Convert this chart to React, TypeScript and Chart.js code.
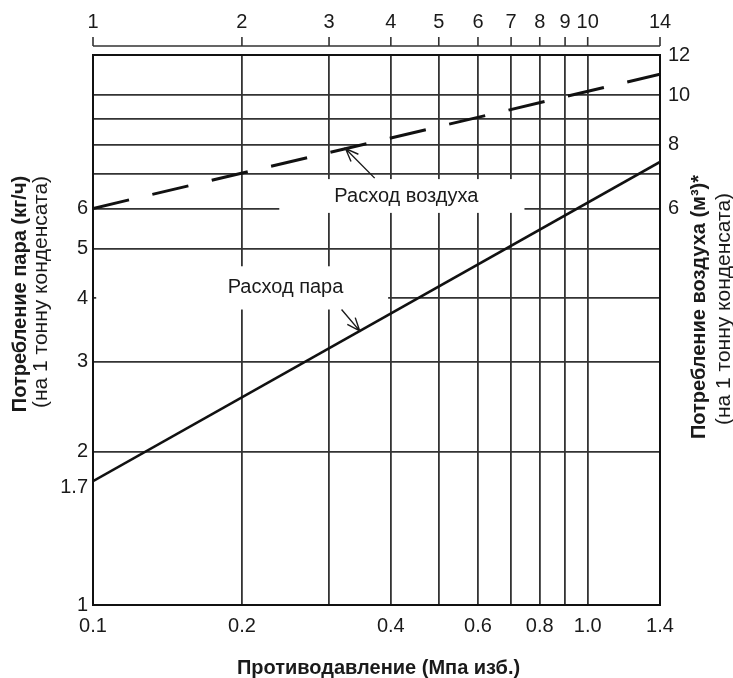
import React, { useEffect, useRef } from 'react';
import { Chart, registerables } from 'chart.js';

Chart.register(...registerables);

// ---- data ----
const pressureMPa = [0.1, 1.4];
const steamKgPerTon = [1.75, 7.4];
const airM3PerTon = [6.0, 11.0];

const bottomGridValues = [0.1, 0.2, 0.3, 0.4, 0.5, 0.6, 0.7, 0.8, 0.9, 1.0, 1.4];
const bottomLabelValues = [0.1, 0.2, 0.4, 0.6, 0.8, 1.0, 1.4];
const topTickValues = [1, 2, 3, 4, 5, 6, 7, 8, 9, 10, 14];
const leftTickValues = [1, 1.7, 2, 3, 4, 5, 6, 7, 8, 9, 10, 12];
const leftLabelValues = [1, 1.7, 2, 3, 4, 5, 6];
const rightLabelValues = [6, 8, 10, 12];

const FONT = "'Liberation Sans', Arial, sans-serif";
const INK = '#1a1a1a';
const GRID = '#333333';

const near = (a: number, b: number) => Math.abs(a - b) < 1e-6;
const inList = (list: number[], v: number) => list.some((b) => near(b, v));

// annotation layout (data coordinates)
const labelBoxes = [
  { x0: 0.238, x1: 0.745, y0: 5.88, y1: 6.85 },
  { x0: 0.1015, x1: 0.395, y0: 3.8, y1: 4.62 },
];
const labelTexts = [
  { text: 'Расход воздуха', x: 0.43, y: 6.32 },
  { text: 'Расход пара', x: 0.245, y: 4.2 },
];
const arrows = [
  { fx: 0.371, fy: 6.88, tx: 0.324, ty: 7.86 },
  { fx: 0.318, fy: 3.8, tx: 0.346, ty: 3.45 },
];

const drawRot = (ctx: CanvasRenderingContext2D, text: string, x: number, y: number, font: string) => {
  ctx.save();
  ctx.translate(x, y);
  ctx.rotate(-Math.PI / 2);
  ctx.font = font;
  ctx.textAlign = 'center';
  ctx.textBaseline = 'middle';
  ctx.fillText(text, 0, 0);
  ctx.restore();
};

const decorPlugin = {
  id: 'decor',
  beforeDatasetsDraw(chart: any) {
    const { ctx, scales } = chart;
    const x = scales.x, y = scales.y;
    ctx.save();
    ctx.fillStyle = '#ffffff';
    for (const b of labelBoxes) {
      const px0 = x.getPixelForValue(b.x0);
      const px1 = x.getPixelForValue(b.x1);
      const py0 = y.getPixelForValue(b.y1);
      const py1 = y.getPixelForValue(b.y0);
      ctx.fillRect(px0, py0, px1 - px0, py1 - py0);
    }
    ctx.restore();
  },
  afterDatasetsDraw(chart: any) {
    const { ctx, scales } = chart;
    const x = scales.x, y = scales.y;
    ctx.save();
    ctx.fillStyle = INK;
    ctx.font = `20px ${FONT}`;
    ctx.textAlign = 'center';
    ctx.textBaseline = 'middle';
    for (const t of labelTexts) {
      ctx.fillText(t.text, x.getPixelForValue(t.x), y.getPixelForValue(t.y));
    }
    ctx.strokeStyle = INK;
    ctx.lineWidth = 1.4;
    for (const a of arrows) {
      const x0 = x.getPixelForValue(a.fx), y0 = y.getPixelForValue(a.fy);
      const x1 = x.getPixelForValue(a.tx), y1 = y.getPixelForValue(a.ty);
      const ang = Math.atan2(y1 - y0, x1 - x0);
      const L = 14, w = 0.38;
      ctx.beginPath();
      ctx.moveTo(x0, y0);
      ctx.lineTo(x1, y1);
      ctx.moveTo(x1 - L * Math.cos(ang - w), y1 - L * Math.sin(ang - w));
      ctx.lineTo(x1, y1);
      ctx.lineTo(x1 - L * Math.cos(ang + w), y1 - L * Math.sin(ang + w));
      ctx.stroke();
    }
    ctx.restore();
  },
  afterDraw(chart: any) {
    const { ctx, chartArea, scales } = chart;
    const x2 = scales.x2;
    ctx.save();
    // top auxiliary axis line with ticks
    const ay = chartArea.top - 9;
    ctx.strokeStyle = GRID;
    ctx.lineWidth = 1.6;
    ctx.beginPath();
    ctx.moveTo(x2.getPixelForValue(topTickValues[0]), ay);
    ctx.lineTo(x2.getPixelForValue(topTickValues[topTickValues.length - 1]), ay);
    for (const v of topTickValues) {
      const px = x2.getPixelForValue(v);
      ctx.moveTo(px, ay);
      ctx.lineTo(px, ay - 9);
    }
    ctx.stroke();

    ctx.fillStyle = INK;
    // bottom title
    ctx.font = `bold 20px ${FONT}`;
    ctx.textAlign = 'center';
    ctx.textBaseline = 'middle';
    ctx.fillText('Противодавление (Мпа изб.)', (chartArea.left + chartArea.right) / 2 + 2, 668);
    // left titles
    drawRot(ctx, 'Потребление пара (кг/ч)', 20, 294, `bold 20px ${FONT}`);
    drawRot(ctx, '(на 1 тонну конденсата)', 41, 292, `21px ${FONT}`);
    // right titles
    drawRot(ctx, 'Потребление воздуха (м³)*', 699, 307, `bold 20px ${FONT}`);
    drawRot(ctx, '(на 1 тонну конденсата)', 724, 309, `21px ${FONT}`);
    ctx.restore();
  },
};

export default function App() {
  const canvasRef = useRef<HTMLCanvasElement | null>(null);

  useEffect(() => {
    if (!canvasRef.current) return;
    const tickFont = { family: FONT, size: 20 };
    const chart = new Chart(canvasRef.current, {
      type: 'line',
      data: {
        datasets: [
          {
            label: 'Расход пара',
            data: pressureMPa.map((p, i) => ({ x: p, y: steamKgPerTon[i] })),
            borderColor: '#111',
            borderWidth: 2.6,
            pointRadius: 0,
            xAxisID: 'x',
            yAxisID: 'y',
          },
          {
            label: 'Расход воздуха',
            data: pressureMPa.map((p, i) => ({ x: p, y: airM3PerTon[i] })),
            borderColor: '#111',
            borderWidth: 3,
            borderDash: [37, 24],
            pointRadius: 0,
            xAxisID: 'x',
            yAxisID: 'y',
          },
        ],
      },
      options: {
        animation: false,
        responsive: false,
        devicePixelRatio: 1,
        layout: { padding: 0 },
        plugins: { legend: { display: false }, tooltip: { enabled: false } },
        scales: {
          x: {
            type: 'logarithmic',
            position: 'bottom',
            min: 0.1,
            max: 1.4,
            afterBuildTicks: (s: any) => { s.ticks = bottomGridValues.map((v) => ({ value: v })); },
            afterFit: (s: any) => { s.height = 73; },
            ticks: {
              autoSkip: false,
              maxRotation: 0,
              padding: 9,
              color: INK,
              font: tickFont,
              callback: (v: any) => (inList(bottomLabelValues, Number(v)) ? Number(v).toFixed(1) : ''),
            },
            grid: { color: GRID, lineWidth: 1.8, drawTicks: false },
            border: { color: '#111', width: 2 },
          },
          x2: {
            type: 'logarithmic',
            position: 'top',
            min: 1,
            max: 14,
            afterBuildTicks: (s: any) => { s.ticks = topTickValues.map((v) => ({ value: v })); },
            afterFit: (s: any) => { s.height = 55; },
            ticks: {
              autoSkip: false,
              maxRotation: 0,
              padding: 21,
              color: INK,
              font: tickFont,
              callback: (v: any) => String(Number(v)),
            },
            grid: { drawOnChartArea: false, drawTicks: false },
            border: { color: '#111', width: 2 },
          },
          y: {
            type: 'logarithmic',
            position: 'left',
            min: 1,
            max: 12,
            afterBuildTicks: (s: any) => { s.ticks = leftTickValues.map((v) => ({ value: v })); },
            afterFit: (s: any) => { s.width = 93; },
            ticks: {
              autoSkip: false,
              padding: 5,
              color: INK,
              font: tickFont,
              callback: (v: any) => (inList(leftLabelValues, Number(v)) ? String(Number(v)) : ''),
            },
            grid: {
              color: (c: any) => (c.tick && near(c.tick.value, 1.7) ? 'rgba(0,0,0,0)' : GRID),
              lineWidth: 1.8,
              drawTicks: false,
            },
            border: { color: '#111', width: 2 },
          },
          y2: {
            type: 'logarithmic',
            position: 'right',
            min: 1,
            max: 12,
            afterBuildTicks: (s: any) => { s.ticks = rightLabelValues.map((v) => ({ value: v })); },
            afterFit: (s: any) => { s.width = 73; },
            ticks: {
              autoSkip: false,
              padding: 8,
              color: INK,
              font: tickFont,
              callback: (v: any) => String(Number(v)),
            },
            grid: { drawOnChartArea: false, drawTicks: false },
            border: { color: '#111', width: 2 },
          },
        },
      },
      plugins: [decorPlugin],
    } as any);
    return () => chart.destroy();
  }, []);

  return (
    <div style={{ position: 'absolute', left: 0, top: 0, width: 733, height: 678, background: '#fff' }}>
      <canvas ref={canvasRef} width={733} height={678} style={{ display: 'block', width: 733, height: 678 }} />
    </div>
  );
}
